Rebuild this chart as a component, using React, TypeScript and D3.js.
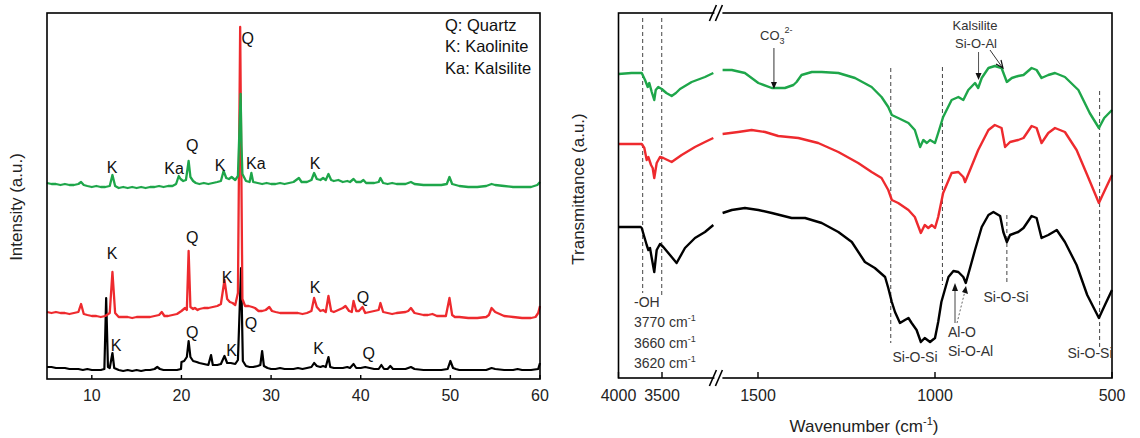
import React from 'react';
import * as d3 from 'd3';

// ---------- XRD data (2θ, intensity a.u., stacked as drawn) ----------
const xrdTicks = [10, 20, 30, 40, 50, 60];

const xrdBlack: [number, number][] = [
  [5, 12], [5.5, 12], [6, 11], [6.5, 11], [7, 11], [7.5, 10], [8, 10], [8.5, 10], [9, 9], [9.5, 10], [10, 9], [10.5, 9], [11, 9], [11.4, 10], [11.6, 81], [11.8, 12], [12.0, 11], [12.3, 26], [12.5, 11], [13, 9], [13.5, 8], [14, 9], [14.5, 8], [15, 9], [15.5, 8], [16, 9], [16.5, 9], [17, 10], [17.3, 12], [17.6, 10], [18, 9], [18.5, 9], [19, 9], [19.5, 9], [19.95, 10], [20.0, 17], [20.3, 18], [20.6, 22], [20.8, 38], [21.0, 22], [21.3, 18], [21.7, 17], [22, 16], [22.5, 15], [23, 14], [23.3, 24], [23.5, 14], [24, 14], [24.4, 15], [24.8, 23], [25.1, 16], [25.5, 16], [26.0, 15], [26.3, 19], [26.65, 111], [26.85, 18], [27.2, 13], [27.6, 12], [28, 12], [28.5, 13], [28.8, 14], [29.0, 28], [29.2, 13], [29.6, 11], [30, 10], [30.5, 10], [31, 11], [31.5, 10], [32, 10], [32.5, 10], [33, 11], [33.5, 10], [34, 11], [34.5, 12], [34.8, 16], [35.1, 13], [35.5, 12], [35.8, 13], [36.1, 12], [36.4, 22], [36.6, 12], [37, 11], [37.5, 11], [38, 11], [38.5, 12], [38.8, 11], [39.2, 15], [39.5, 11], [40, 11], [40.5, 12], [41, 11], [41.5, 10], [42, 10], [42.3, 14], [42.6, 10], [43, 10], [43.3, 13], [43.6, 10], [44, 10], [45, 10], [45.6, 12], [46, 10], [47, 9], [48, 9], [49, 9], [49.7, 10], [50.0, 18], [50.3, 11], [50.6, 10], [51, 9], [52, 9], [53, 9], [54, 9], [54.6, 11], [55, 10], [56, 9], [57, 9], [57.5, 10], [58, 9], [59, 9], [59.8, 10], [60, 16],
];

const xrdRed: [number, number][] = [
  [5, 67], [5.5, 66], [6, 67], [6.5, 66], [7, 66], [7.5, 65], [8, 66], [8.5, 67], [8.8, 75], [9.1, 65], [9.5, 64], [10, 63], [10.5, 63], [11, 62], [11.5, 63], [12.0, 66], [12.3, 107], [12.6, 66], [13, 62], [13.5, 62], [14, 62], [14.5, 61], [15, 62], [15.5, 62], [16, 62], [16.5, 62], [17, 63], [17.5, 64], [17.8, 67], [18.1, 63], [18.5, 63], [19, 64], [19.5, 65], [20, 68], [20.4, 71], [20.6, 69], [20.8, 128], [21.0, 72], [21.3, 70], [21.5, 71], [21.8, 69], [22, 70], [22.5, 71], [23, 71], [23.5, 72], [24, 73], [24.4, 75], [24.8, 99], [25.1, 80], [25.4, 77], [25.7, 76], [26.0, 74], [26.3, 86], [26.55, 352], [26.8, 80], [27.1, 73], [27.5, 73], [27.9, 72], [28.2, 71], [28.6, 68], [29, 68], [29.4, 69], [29.8, 72], [30.1, 68], [30.5, 67], [31, 66], [31.5, 66], [32, 66], [32.5, 66], [33, 66], [33.5, 65], [34, 66], [34.5, 68], [34.8, 81], [35.1, 72], [35.5, 68], [35.8, 69], [36.1, 67], [36.4, 83], [36.7, 68], [37, 67], [37.5, 69], [38, 71], [38.3, 73], [38.7, 68], [39.0, 67], [39.2, 78], [39.5, 68], [39.8, 68], [40.2, 72], [40.5, 66], [41, 67], [41.5, 68], [42.0, 69], [42.2, 76], [42.5, 67], [43, 66], [43.5, 65], [44, 66], [45, 67], [45.3, 68], [45.6, 71], [46, 66], [46.5, 65], [47, 64], [47.5, 64], [48, 65], [48.5, 63], [49, 63], [49.5, 63], [49.9, 81], [50.2, 64], [50.5, 62], [51, 62], [52, 61], [53, 61], [54, 62], [54.3, 64], [54.6, 71], [55, 67], [55.5, 65], [56, 63], [57, 62], [58, 61], [59, 61], [59.5, 62], [59.8, 66], [60, 73],
];

const xrdGreen: [number, number][] = [
  [5, 196], [5.5, 195], [6, 195], [6.5, 194], [7, 195], [7.5, 194], [8, 194], [8.5, 195], [8.8, 197], [9.1, 194], [9.5, 193], [10, 192], [10.5, 193], [11, 192], [11.5, 192], [12.0, 193], [12.3, 204], [12.6, 193], [13, 191], [13.5, 192], [14, 191], [14.5, 192], [15, 191], [15.5, 192], [16, 191], [16.5, 192], [17, 192], [17.5, 193], [18, 192], [18.5, 193], [19, 193], [19.4, 195], [19.7, 203], [19.9, 200], [20.2, 198], [20.5, 199], [20.8, 218], [21.0, 202], [21.3, 198], [21.6, 196], [22, 195], [22.5, 196], [23, 195], [23.5, 196], [24, 197], [24.4, 198], [24.7, 208], [25.0, 201], [25.3, 200], [25.6, 202], [26.0, 199], [26.3, 203], [26.6, 285], [26.7, 233], [26.8, 205], [27.2, 198], [27.6, 197], [27.8, 206], [28.0, 197], [28.5, 196], [29, 195], [29.5, 196], [30, 195], [30.5, 195], [31, 196], [31.5, 195], [32, 196], [32.5, 197], [33.1, 201], [33.4, 197], [34, 197], [34.5, 199], [34.8, 206], [35.1, 200], [35.5, 199], [35.8, 201], [36.1, 199], [36.4, 205], [36.7, 199], [37, 198], [37.5, 199], [38, 197], [38.5, 198], [38.8, 197], [39.2, 200], [39.5, 197], [40.0, 197], [40.3, 199], [40.6, 196], [41, 196], [41.5, 196], [42.0, 197], [42.2, 201], [42.5, 196], [43, 195], [43.5, 196], [44, 195], [45, 195], [45.6, 197], [46, 195], [47, 194], [48, 194], [49, 194], [49.6, 195], [49.9, 202], [50.2, 195], [51, 193], [52, 192], [53, 192], [54, 193], [54.6, 195], [55, 194], [56, 193], [57, 192], [58, 192], [59, 192], [59.7, 194], [60, 197],
];

const xrdLegend = ['Q: Quartz', 'K: Kaolinite', 'Ka: Kalsilite'];

// peak labels: [text, 2θ, intensity]
const xrdLabels: [string, number, number][] = [
  ['Q', 27.4, 341],
  ['K', 12.25, 212], ['Ka', 19.17, 211], ['Q', 21.2, 234], ['K', 24.3, 214], ['Ka', 28.3, 216], ['K', 34.9, 216],
  ['K', 12.25, 126], ['Q', 21.2, 142], ['K', 25.1, 102], ['K', 34.9, 92], ['Q', 40.25, 82],
  ['Q', 27.75, 56], ['Q', 21.2, 47], ['K', 12.7, 34], ['K', 25.6, 29], ['K', 35.3, 31], ['Q', 40.9, 26],
];

// ---------- FTIR data (wavenumber, transmittance a.u., stacked as drawn) ----------
const ftirTicks1 = [4000, 3500];
const ftirTicks2 = [1500, 1000, 500];

const ftirGreen: [number, number][] = [
  [4000, 304], [3850, 305], [3733, 305], [3695, 298], [3664, 291], [3646, 295], [3618, 286], [3589, 278], [3572, 288], [3543, 291], [3503, 289], [3450, 285], [3389, 282], [3340, 285], [3293, 289], [3159, 296], [3006, 301], [2910, 305],
  [1600, 308], [1574, 308], [1537, 305], [1499, 295], [1461, 290], [1424, 290], [1400, 293], [1391, 296], [1377, 303], [1348, 306], [1320, 306], [1273, 305], [1226, 300], [1179, 291], [1151, 281], [1132, 271], [1122, 263], [1104, 260], [1075, 255], [1057, 248], [1042, 231], [1033, 238], [1023, 235], [1014, 238], [1000, 235], [991, 245], [977, 261], [953, 278], [934, 281], [920, 278], [906, 288], [887, 295], [878, 290], [868, 300], [849, 310], [831, 312], [812, 310], [797, 296], [783, 300], [765, 302], [750, 303], [727, 310], [713, 308], [699, 300], [680, 303], [661, 305], [633, 301], [595, 288], [563, 265], [537, 250], [522, 260], [500, 268],
];

const ftirRed: [number, number][] = [
  [4000, 234], [3850, 234], [3733, 234], [3703, 230], [3676, 218], [3657, 221], [3626, 213], [3607, 210], [3589, 200], [3561, 215], [3523, 221], [3485, 220], [3389, 216], [3274, 223], [3121, 231], [3006, 236], [2910, 240],
  [1600, 244], [1556, 246], [1518, 248], [1480, 246], [1443, 242], [1386, 240], [1330, 235], [1273, 226], [1217, 215], [1179, 206], [1151, 200], [1132, 188], [1122, 178], [1104, 175], [1075, 168], [1057, 161], [1040, 145], [1029, 153], [1019, 150], [1009, 153], [1000, 150], [991, 161], [977, 185], [953, 205], [934, 206], [920, 201], [915, 196], [901, 208], [878, 228], [849, 248], [831, 253], [812, 250], [802, 231], [788, 236], [765, 238], [750, 240], [727, 252], [713, 250], [699, 235], [680, 245], [661, 250], [633, 246], [600, 228], [570, 203], [537, 175], [520, 188], [500, 203],
];

const ftirBlack: [number, number][] = [
  [4000, 151], [3850, 151], [3745, 151], [3733, 150], [3703, 141], [3676, 133], [3657, 128], [3638, 130], [3618, 120], [3589, 106], [3561, 128], [3523, 134], [3485, 131], [3389, 121], [3332, 115], [3236, 130], [3121, 140], [3006, 146], [2910, 153],
  [1600, 165], [1574, 168], [1537, 170], [1499, 168], [1461, 165], [1405, 160], [1367, 160], [1320, 155], [1273, 146], [1235, 136], [1198, 116], [1170, 110], [1141, 101], [1132, 90], [1122, 76], [1113, 66], [1099, 55], [1085, 58], [1075, 60], [1066, 55], [1052, 48], [1040, 36], [1029, 40], [1014, 36], [1000, 40], [991, 56], [982, 76], [962, 101], [948, 107], [934, 106], [920, 101], [913, 95], [901, 110], [887, 128], [868, 151], [849, 163], [835, 166], [816, 162], [807, 146], [797, 136], [788, 143], [765, 146], [750, 150], [727, 162], [713, 160], [699, 140], [680, 143], [656, 148], [633, 136], [600, 113], [570, 83], [537, 60], [520, 73], [500, 88],
];

// dashed guide lines: [wavenumber, top value, bottom value]
const ftirGuides: [number, number, number][] = [
  [3722, 360, 85], [3503, 360, 83], [1125, 310, 35], [979, 311, 93], [797, 163, 96], [535, 287, 31],
];

// ---------- layout ----------
const W = 1140, H = 438;
const L = { x0: 47, x1: 540, y0: 13, y1: 379 };
const R = { x0: 618.5, x1: 1112, y0: 13, y1: 378, b0: 714.2, b1: 722.6 };
const FONT = '"Liberation Sans", Arial, Helvetica, sans-serif';
const GREEN = '#1ea64a';
const RED = '#ee2a2e';

export default function App() {
  const xX = d3.scaleLinear().domain([5, 60]).range([L.x0, L.x1]);
  const xY = d3.scaleLinear().domain([0, 366]).range([L.y1, L.y0]);
  const xrdLine = d3.line<[number, number]>().x(d => xX(d[0])).y(d => xY(d[1]));

  const f1 = d3.scaleLinear().domain([4000, 2900]).range([R.x0, R.b0]);
  const f2 = d3.scaleLinear().domain([1600, 500]).range([R.b1, R.x1]);
  const fx = (w: number) => (w >= 2000 ? f1(w) : f2(w));
  const fY = d3.scaleLinear().domain([0, 365]).range([R.y1, R.y0]);
  const ftLine = d3.line<[number, number]>().x(d => fx(d[0])).y(d => fY(d[1]));
  const seg = (data: [number, number][]) => [data.filter(d => d[0] >= 2000), data.filter(d => d[0] < 2000)];

  const ann = { fontFamily: FONT, fontSize: 14, fill: '#333' } as const;
  const brk = (cx: number, cy: number) => (
    <g>
      <rect x={cx - 4} y={cy - 2} width={8} height={4} fill="#fff" />
      <line x1={cx - 9} y1={cy + 8} x2={cx - 2} y2={cy - 8} stroke="#000" strokeWidth={1.6} />
      <line x1={cx - 3} y1={cy + 8} x2={cx + 4} y2={cy - 8} stroke="#000" strokeWidth={1.6} />
    </g>
  );

  return (
    <svg width={W} height={H} style={{ position: 'absolute', left: 0, top: 0, background: '#fff' }}>
      <rect width={W} height={H} fill="#fff" />
      {/* ===== Left panel: XRD ===== */}
      <g>
        <path d={xrdLine(xrdBlack) || ''} fill="none" stroke="#000" strokeWidth={2.2} strokeLinejoin="round" />
        <path d={xrdLine(xrdRed) || ''} fill="none" stroke={RED} strokeWidth={2.3} strokeLinejoin="round" />
        <path d={xrdLine(xrdGreen) || ''} fill="none" stroke={GREEN} strokeWidth={2.3} strokeLinejoin="round" />
        <rect x={L.x0} y={L.y0} width={L.x1 - L.x0} height={L.y1 - L.y0} fill="none" stroke="#000" strokeWidth={1.6} />
        {xrdTicks.map(t => (
          <g key={t}>
            <line x1={xX(t)} x2={xX(t)} y1={L.y1} y2={L.y1 - 4} stroke="#000" strokeWidth={1.4} />
            <text x={xX(t)} y={401} textAnchor="middle" fontFamily={FONT} fontSize={16} fill="#222">{t}</text>
          </g>
        ))}
        {xrdLabels.map(([t, a, v], i) => (
          <text key={i} x={xX(a)} y={xY(v)} dy="0.36em" textAnchor="middle" fontFamily={FONT} fontSize={16} fill="#111">{t}</text>
        ))}
        {xrdLegend.map((t, i) => (
          <text key={t} x={445} y={25 + i * 21.5} dy="0.36em" fontFamily={FONT} fontSize={16.5} fill="#111">{t}</text>
        ))}
        <text transform={`translate(22,207) rotate(-90)`} textAnchor="middle" fontFamily={FONT} fontSize={17} fill="#222">Intensity (a.u.)</text>
      </g>

      {/* ===== Right panel: FTIR ===== */}
      <g>
        {ftirGuides.map(([w, a, b], i) => (
          <line key={i} x1={fx(w)} x2={fx(w)} y1={fY(a)} y2={fY(b)} stroke="#444" strokeWidth={1} strokeDasharray="4,3" />
        ))}
        {[ftirBlack, ftirRed, ftirGreen].map((d, i) =>
          seg(d).map((s, j) => (
            <path key={`${i}-${j}`} d={ftLine(s) || ''} fill="none" stroke={[ '#000', RED, GREEN ][i]} strokeWidth={2.4} strokeLinejoin="round" />
          ))
        )}
        <rect x={R.x0} y={R.y0} width={R.x1 - R.x0} height={R.y1 - R.y0} fill="none" stroke="#000" strokeWidth={1.6} />
        {brk((R.b0 + R.b1) / 2, R.y0)}
        {brk((R.b0 + R.b1) / 2, R.y1)}
        {ftirTicks1.map(t => (
          <g key={t}>
            <line x1={f1(t)} x2={f1(t)} y1={R.y1} y2={R.y1 - 6} stroke="#000" strokeWidth={1.4} />
            <text x={f1(t)} y={401} textAnchor="middle" fontFamily={FONT} fontSize={16} fill="#222">{t}</text>
          </g>
        ))}
        {ftirTicks2.map(t => (
          <g key={t}>
            <line x1={f2(t)} x2={f2(t)} y1={R.y1} y2={R.y1 - 6} stroke="#000" strokeWidth={1.4} />
            <text x={f2(t)} y={401} textAnchor="middle" fontFamily={FONT} fontSize={16} fill="#222">{t}</text>
          </g>
        ))}
        <text x={864} y={432} textAnchor="middle" fontFamily={FONT} fontSize={17} fill="#222">
          Wavenumber (cm<tspan fontSize={11} dy={-7}>-1</tspan><tspan dy={7}>)</tspan>
        </text>
        <text transform={`translate(584,189) rotate(-90)`} textAnchor="middle" fontFamily={FONT} fontSize={17} fill="#222">Transmittance (a.u.)</text>

        {/* annotations */}
        <text x={760} y={40} {...ann} fontSize={13}>CO<tspan fontSize={9} dy={4}>3</tspan><tspan fontSize={9} dy={-11}>2-</tspan></text>
        <line x1={fx(1455)} x2={fx(1455)} y1={48} y2={84} stroke="#333" strokeWidth={1} />
        <path d={`M${fx(1455) - 3},${82} L${fx(1455) + 3},${82} L${fx(1455)},${89} Z`} fill="#111" />

        <text x={975} y={30} textAnchor="middle" {...ann} fontSize={13}>Kalsilite</text>
        <text x={976} y={48} textAnchor="middle" {...ann} fontSize={13}>Si-O-Al</text>
        <line x1={fx(877)} x2={fx(877)} y1={52} y2={76} stroke="#555" strokeWidth={1} />
        <path d={`M${fx(877) - 3},${73} L${fx(877) + 3},${73} L${fx(877)},${80} Z`} fill="#111" />
        <line x1={990} y1={50} x2={1002} y2={67} stroke="#333" strokeWidth={1} />
        <path d="M996,64 L1003,68 L1001,60" fill="none" stroke="#111" strokeWidth={1.2} />

        <text x={634} y={307} {...ann}>-OH</text>
        {['3770', '3660', '3620'].map((t, i) => (
          <text key={t} x={634} y={327 + i * 20.5} {...ann}>{t} cm<tspan fontSize={9} dy={-6}>-1</tspan></text>
        ))}

        <text x={915} y={362} textAnchor="middle" {...ann}>Si-O-Si</text>
        <text x={948} y={337} {...ann}>Al-O</text>
        <text x={948} y={356} {...ann}>Si-O-Al</text>
        <line x1={955} y1={323} x2={955} y2={288} stroke="#444" strokeWidth={1} />
        <path d="M952,291 L958,291 L955,283 Z" fill="#111" />
        <line x1={957} y1={323} x2={965} y2={291} stroke="#666" strokeWidth={1} strokeDasharray="2,2" />
        <path d="M962,292 L968,294 L966,286 Z" fill="#111" />
        <text x={1006} y={302} textAnchor="middle" {...ann}>Si-O-Si</text>
        <text x={1090} y={358} textAnchor="middle" {...ann}>Si-O-Si</text>
      </g>
    </svg>
  );
}
